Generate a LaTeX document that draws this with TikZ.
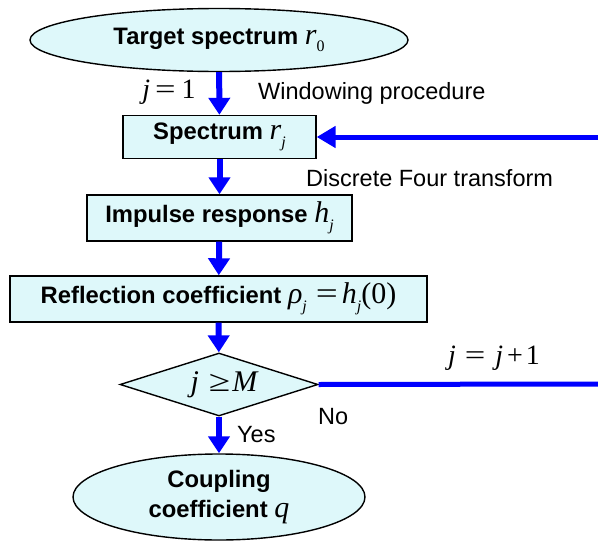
\documentclass[tikz,border=0pt]{standalone}
\usepackage{fontspec}
\setmainfont{Liberation Sans}
\newfontfamily\tms{Liberation Serif}
\usetikzlibrary{arrows.meta,shapes.geometric}

\definecolor{boxfill}{RGB}{222,248,250}
\definecolor{flowblue}{RGB}{0,0,255}

% math-like symbols set in a Times-style face; \msize is set per style
\newcommand{\msize}{28}
\newcommand{\mvar}[1]{{\tms\mdseries\itshape\fontsize{\msize}{30}\selectfont #1}}
\newcommand{\mrm}[1]{{\tms\mdseries\upshape\fontsize{\msize}{30}\selectfont #1}}
\newcommand{\lsub}[1]{\raisebox{-0.6ex}{\tms\mdseries\fontsize{16}{17}\selectfont #1}}
\newcommand{\weq}{\scalebox{1.3}[1]{\mrm{=}}}
\newcommand{\wgeq}{\scalebox{1.3}[1]{\mrm{≥}}}

\begin{document}
\begin{tikzpicture}[x=1pt,y=-1pt,
  box/.style={draw=black, line width=1.4pt, fill=boxfill, inner sep=0pt,
    font=\bfseries\fontsize{23.8}{30}\selectfont\renewcommand{\msize}{30}},
  flow/.style={draw=flowblue, line width=6pt, -{Triangle[width=21pt,length=17pt]}},
  loopline/.style={draw=flowblue, line width=5pt},
  lbl/.style={inner sep=0pt, font=\fontsize{23.5}{26}\selectfont}
  ]
\useasboundingbox (0,0) rectangle (598,541);

% process steps
\node[box, ellipse, minimum width=378pt, minimum height=63pt] (target) at (219,40)
  {Target spectrum \mvar{r}\lsub{0}};
\node[box, rectangle, minimum width=193pt, minimum height=43pt] (spec) at (219.5,137)
  {Spectrum \mvar{r}\lsub{\itshape j}};
\node[box, rectangle, minimum width=265pt, minimum height=46pt] (imp) at (219.5,218)
  {Impulse response \mvar{h}\lsub{\itshape j}};
\node[box, rectangle, minimum width=417pt, minimum height=46pt] (refl) at (218.5,299)
  {Reflection coefficient \mvar{ρ}\lsub{\itshape j}\hspace{9pt}\weq\hspace{4pt}\mvar{h}\lsub{\itshape j}\mrm{(0)}};
\node[box, diamond, minimum width=198pt, minimum height=63pt, aspect=3] (test) at (219,384.5)
  {\hspace{10pt}\mvar{j}\hspace{10pt}\wgeq\hspace{2pt}\mvar{M}};
\node[box, ellipse, minimum width=292pt, minimum height=86pt, align=center] (coup) at (219,497)
  {Coupling\\coefficient \mvar{q}};

% main flow
\draw[flow] (target) -- (spec);
\draw[flow] (spec) -- (imp);
\draw[flow] (imp) -- (refl);
\draw[flow] (refl) -- (test);
\draw[flow] (test) -- (coup);

% iteration loop
\coordinate (looptop) at (598,137);
\coordinate (loopbot) at (598,384);
\draw[flow, line width=5pt, -{Triangle[width=21pt,length=19pt]}] (looptop) -- (spec.east);
\draw[loopline] (test.east) -- (loopbot);

% annotations
\node[lbl] (jinit) at (169,92) {\mvar{j}\hspace{5pt}\weq\hspace{6pt}\mrm{1}};
\node[lbl, anchor=west] (win) at (258,93) {Windowing procedure};
\node[lbl, anchor=west] (dft) at (306,178) {Discrete Four transform};
\node[lbl] (jinc) at (494,358) {\mvar{j}\hspace{9pt}\weq\hspace{10pt}\mvar{j}\hspace{4pt}\mrm{+}\hspace{3pt}\mrm{1}};
\node[lbl, anchor=west] (no) at (318,417) {No};
\node[lbl, anchor=west] (yes) at (237,435) {Yes};
\end{tikzpicture}
\end{document}
